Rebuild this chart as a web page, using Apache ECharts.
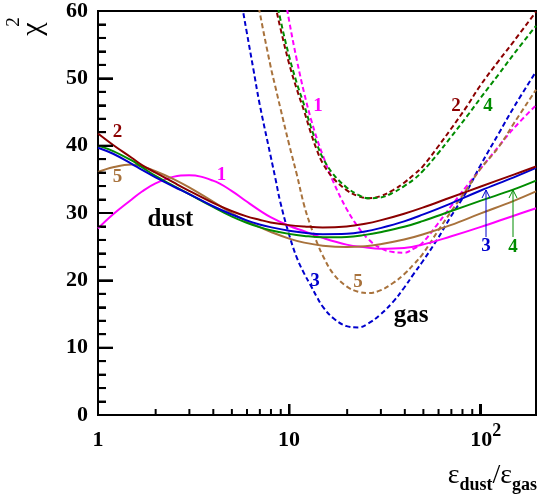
<!DOCTYPE html>
<html><head><meta charset="utf-8">
<script src="https://cdn.jsdelivr.net/npm/echarts@6/dist/echarts.min.js"></script>
<style>html,body{margin:0;padding:0;background:#fff}#c{width:539px;height:500px}</style>
</head><body><div id="c"></div>
<script>
// ---- data ----
const dustX = [1, 1.2, 1.5, 1.7, 2, 2.5, 3, 4, 5, 6, 7, 8, 10, 12, 15, 20, 25, 30, 40, 50, 70, 100, 150, 196];
const dust1 = [27.7, 29.8, 32.0, 33.2, 34.4, 35.4, 35.6, 34.8, 33.3, 31.7, 30.4, 29.4, 28.1, 27.3, 26.3, 25.3, 24.9, 24.7, 24.8, 25.3, 26.5, 27.9, 29.6, 30.7];
const dust2 = [41.8, 40.1, 38.2, 37.1, 36.0, 34.5, 33.3, 31.5, 30.3, 29.5, 29.0, 28.6, 28.2, 28.0, 27.85, 28.0, 28.4, 28.9, 29.9, 30.8, 32.3, 33.9, 35.7, 36.9];
const dust3 = [39.7, 38.8, 37.3, 36.4, 35.3, 33.9, 32.8, 31.0, 29.8, 28.9, 28.3, 27.9, 27.35, 27.05, 26.85, 26.9, 27.25, 27.75, 28.75, 29.75, 31.4, 33.3, 35.3, 36.7];
const dust4 = [40.0, 39.2, 37.8, 36.8, 35.5, 34.0, 32.8, 30.9, 29.5, 28.55, 27.9, 27.45, 26.9, 26.6, 26.4, 26.45, 26.75, 27.15, 27.95, 28.8, 30.25, 31.8, 33.5, 34.8];
const dust5 = [36.1, 36.8, 37.2, 36.9, 36.2, 35.0, 33.8, 31.7, 30.0, 28.8, 27.9, 27.2, 26.2, 25.6, 25.15, 24.95, 25.05, 25.35, 26.05, 26.8, 28.2, 29.9, 31.8, 33.2];

const gasX = [5, 5.5, 6, 6.5, 7, 8, 8.5, 9, 10, 11, 12, 13, 14, 15, 17, 20, 23, 26, 30, 35, 40, 45, 50, 60, 70, 85, 100, 125, 150, 196];
const gas1 = [null, null, null, null, null, null, null, 66.2, 58.6, 52.6, 47.8, 44.0, 41.0, 38.6, 34.7, 30.6, 27.9, 26.1, 24.8, 24.2, 24.1, 24.7, 25.6, 28.4, 30.9, 34.0, 36.5, 39.9, 42.6, 46.0];
const gas2 = [null, null, null, null, null, 64.4, 60.7, 57.5, 52.2, 48.3, 45.1, 41.9, 39.3, 37.4, 35.2, 33.4, 32.5, 32.2, 32.5, 33.4, 34.5, 35.7, 36.9, 39.8, 42.4, 45.8, 48.9, 52.6, 55.5, 59.9];
const gas3 = [69.0, 62.9, 56.9, 51.4, 46.3, 38.5, 35.0, 31.6, 26.8, 23.3, 21.0, 19.2, 17.5, 16.1, 14.4, 13.2, 13.0, 13.6, 14.9, 16.8, 18.9, 21.0, 22.8, 26.2, 29.4, 33.2, 37.0, 41.8, 45.7, 51.0];
const gas4 = [null, null, null, null, null, 66.3, 62.5, 58.8, 53.3, 49.2, 46.0, 42.8, 40.2, 38.2, 35.8, 33.8, 32.7, 32.2, 32.3, 33.0, 34.0, 35.0, 36.2, 38.8, 41.2, 44.3, 47.0, 50.6, 53.6, 57.8];
const gas5 = [null, null, null, 65.2, 60.0, 51.8, 48.6, 45.6, 40.2, 35.6, 31.1, 28.0, 25.6, 23.7, 21.0, 19.1, 18.3, 18.1, 18.5, 19.6, 20.9, 22.4, 23.9, 27.3, 30.1, 33.5, 36.5, 39.8, 43.3, 48.3];

const xMajorTicks = [1, 10, 100];
const xMinorTicks = [2, 3, 4, 5, 6, 7, 8, 9, 20, 30, 40, 50, 60, 70, 80, 90];
const yTicks = [0, 10, 20, 30, 40, 50, 60];
const yMinorTicks = [2, 4, 6, 8, 12, 14, 16, 18, 22, 24, 26, 28, 32, 34, 36, 38, 42, 44, 46, 48, 52, 54, 56, 58];

// ---- layout / styles ----
const W = 539, H = 500;
const GRID = {left: 98, right: 2, top: 11, bottom: 85};
const X_MIN = 1, X_MAX = 196, Y_MIN = 0, Y_MAX = 60;
const COL = {1: '#ff00ff', 2: '#8b0000', 3: '#0000cd', 4: '#008c00', 5: '#a8723c'};
const SERIF = '"Liberation Serif","Times New Roman",serif';

function pairs(xs, ys) { return xs.map((x, i) => [x, ys[i]]); }
function lineSeries(name, xs, ys, color, dashed) {
  return {
    name, type: 'line', data: pairs(xs, ys), showSymbol: false, smooth: 0.4,
    connectNulls: false, z: dashed ? 3 : 4,
    lineStyle: {color, width: 2, type: dashed ? [5, 3] : 'solid'}
  };
}

const chart = echarts.init(document.getElementById('c'), null, {renderer: 'canvas'});
chart.setOption({
  backgroundColor: '#fff',
  animation: false,
  grid: Object.assign({show: true, borderColor: '#000', borderWidth: 2, backgroundColor: 'transparent'}, GRID),
  xAxis: {
    type: 'log', logBase: 10, min: X_MIN, max: X_MAX,
    axisLine: {show: true, lineStyle: {color: '#000', width: 2}},
    axisTick: {show: true, inside: true, length: 11, lineStyle: {color: '#000', width: 2}},
    splitLine: {show: false},
    axisLabel: {
      show: true, margin: 7, color: '#000',
      formatter: v => xMajorTicks.includes(v) ? (v === 100 ? '{p|}{m|10}{s|2}' : '{m|' + v + '}') : '',
      rich: {
        m: {fontFamily: SERIF, fontWeight: 'bold', fontSize: 22, lineHeight: 36, color: '#000'},
        s: {fontFamily: SERIF, fontWeight: 'bold', fontSize: 18, lineHeight: 14, verticalAlign: 'top', color: '#000'},
        p: {width: 11, lineHeight: 36}
      }
    }
  },
  yAxis: {
    type: 'value', min: Y_MIN, max: Y_MAX, interval: 10,
    axisLine: {show: true, lineStyle: {color: '#000', width: 2}},
    axisTick: {show: true, inside: true, length: 15, lineStyle: {color: '#000', width: 2}},
    minorTick: {show: true, splitNumber: 5, length: 8, lineStyle: {color: '#000', width: 2}},
    splitLine: {show: false},
    axisLabel: {show: true, margin: 10, color: '#000', fontFamily: SERIF, fontWeight: 'bold', fontSize: 22,
      formatter: v => yTicks.includes(v) ? String(v) : ''}
  },
  series: [
    lineSeries('gas 1', gasX, gas1, COL[1], true),
    lineSeries('gas 2', gasX, gas2, COL[2], true),
    lineSeries('gas 4', gasX, gas4, COL[4], true),
    lineSeries('gas 3', gasX, gas3, COL[3], true),
    lineSeries('gas 5', gasX, gas5, COL[5], true),
    lineSeries('dust 1', dustX, dust1, COL[1], false),
    lineSeries('dust 5', dustX, dust5, COL[5], false),
    lineSeries('dust 4', dustX, dust4, COL[4], false),
    lineSeries('dust 3', dustX, dust3, COL[3], false),
    lineSeries('dust 2', dustX, dust2, COL[2], false)
  ]
});

// ---- tick marks: positions from the same axis scale definition as the grid ----
const plotW = W - GRID.left - GRID.right, plotH = H - GRID.top - GRID.bottom;
const xPx = x => GRID.left + plotW * (Math.log10(x) - Math.log10(X_MIN)) / (Math.log10(X_MAX) - Math.log10(X_MIN));
const yPx = y => GRID.top + plotH * (1 - (y - Y_MIN) / (Y_MAX - Y_MIN));
const y0 = yPx(Y_MIN), x0 = xPx(X_MIN);
function tick(x1, y1, x2, y2) {
  return {type: 'line', zlevel: 1, z: 100, shape: {x1: +x1, y1: +y1, x2: +x2, y2: +y2}, style: {stroke: '#000', lineWidth: 2}};
}
const tickGraphics = [];
xMajorTicks.forEach(x => tickGraphics.push(tick(xPx(x), y0, xPx(x), y0 - 11)));
xMinorTicks.forEach(x => tickGraphics.push(tick(xPx(x), y0, xPx(x), y0 - 6)));
yTicks.forEach(y => tickGraphics.push(tick(x0, yPx(y), x0 + 15, yPx(y))));
yMinorTicks.forEach(y => tickGraphics.push(tick(x0, yPx(y), x0 + 8, yPx(y))));

// ---- annotations (pixel positions) ----
function txt(x, y, text, color, size) {
  return {type: 'text', x, y, zlevel: 1, z: 100,
    style: {text, fill: color, font: 'bold ' + size + 'px ' + SERIF, align: 'center', verticalAlign: 'middle'}};
}
function arrow(x, ya, yb, color) {
  return [
    {type: 'line', zlevel: 1, z: 100, shape: {x1: x, y1: ya, x2: x, y2: yb}, style: {stroke: color, lineWidth: 1}},
    {type: 'polyline', zlevel: 1, z: 100, shape: {points: [[x - 4, yb + 8], [x, yb], [x + 4, yb + 8]]}, style: {stroke: color, lineWidth: 1, fill: null}}
  ];
}
const graphics = [
  txt(117.5, 132.5, '2', COL[2], 19),
  txt(117.5, 177, '5', COL[5], 19),
  txt(221.5, 175.5, '1', COL[1], 19),
  txt(170.5, 220, 'dust', '#000', 25),
  txt(318, 106, '1', COL[1], 19),
  txt(315, 281, '3', COL[3], 19),
  txt(358, 282, '5', COL[5], 19),
  txt(411, 316, 'gas', '#000', 25),
  txt(456, 106.5, '2', COL[2], 19),
  txt(488, 106.5, '4', COL[4], 19),
  txt(486, 246, '3', COL[3], 19),
  txt(513, 247, '4', COL[4], 19),
  ...arrow(486, 237, 190, COL[3]),
  ...arrow(513, 237, 190, COL[4]),
  // y-axis title chi^2 (rotated)
  {type: 'text', x: 33, y: 29, rotation: Math.PI / 2, zlevel: 1, z: 100,
    style: {text: 'χ', fill: '#000', font: '30px ' + SERIF, align: 'center', verticalAlign: 'middle'}},
  {type: 'text', x: 14, y: 22, rotation: Math.PI / 2, zlevel: 1, z: 100,
    style: {text: '2', fill: '#000', font: '19px ' + SERIF, align: 'center', verticalAlign: 'middle'}},
  // x-axis title
  {type: 'text', x: 537, y: 458, zlevel: 1, z: 100,
    style: {text: '{e|ε}{s|dust}{e|/ε}{s|gas}', align: 'right', verticalAlign: 'top',
      rich: {
        e: {fontFamily: SERIF, fontSize: 28, lineHeight: 36, fill: '#000', color: '#000'},
        s: {fontFamily: SERIF, fontWeight: 'bold', fontSize: 18, lineHeight: 18, verticalAlign: 'bottom', fill: '#000', color: '#000'}
      }}},
  ...tickGraphics
];
chart.setOption({graphic: graphics});
</script>
</body></html>
